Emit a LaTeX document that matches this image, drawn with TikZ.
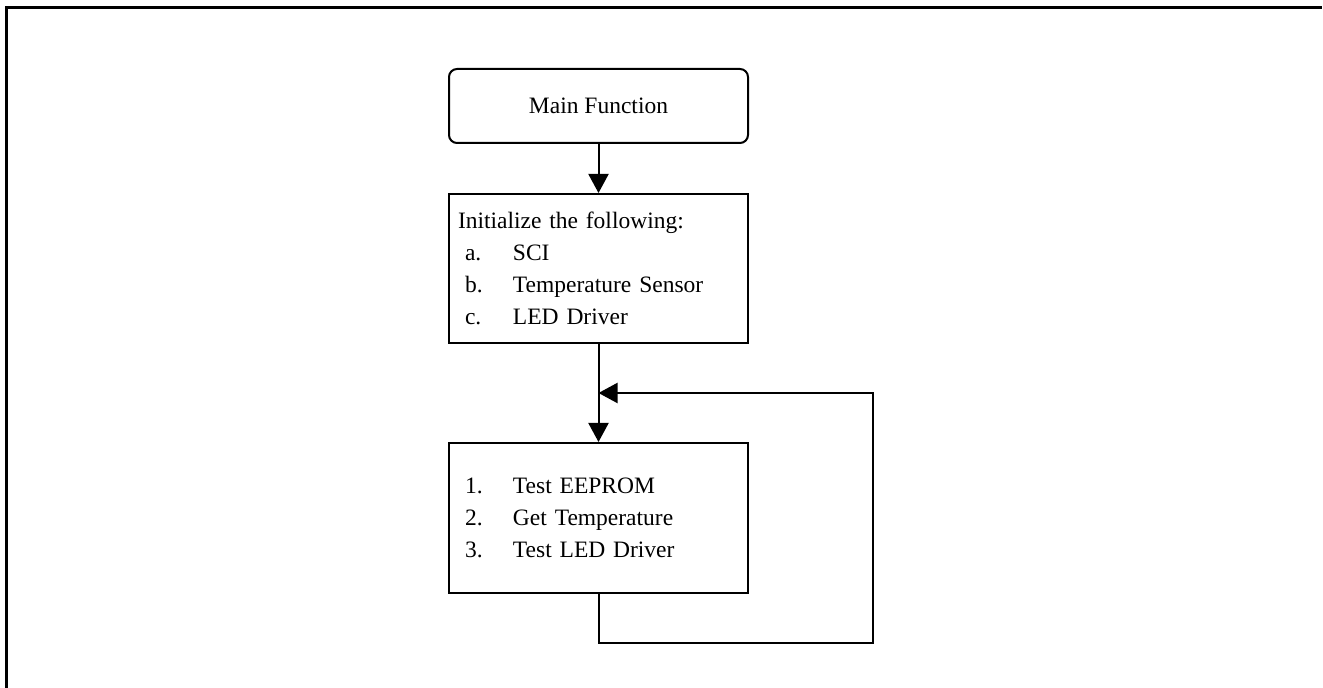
\documentclass[tikz,border=0pt]{standalone}
\usepackage{fontspec}
\setmainfont{Liberation Serif}
\usetikzlibrary{arrows.meta}

\newcommand{\stepitem}[2]{\hspace*{3.5pt}\makebox[24pt][l]{#1}#2}

\begin{document}
\begin{tikzpicture}[x=0.5pt,y=-0.5pt,
  box/.style={draw,line width=1pt,minimum width=149.5pt,inner xsep=4.5pt,inner ysep=0pt,
    font=\fontsize{11.75pt}{15.9pt}\selectfont},
  textbox/.style={box,text width=140.5pt,align=left},
  flow/.style={line width=1pt,-{Triangle[length=9.5pt,width=10pt]}}]
\useasboundingbox (0,0) rectangle (1323,688);
% page frame, top and left only
\draw[line width=1.5pt] (6,688) -- (6,8) -- (1322,8);
% boxes
\node[box,rounded corners=4pt,minimum height=37pt] (main) at (598.5,106) {Main Function};
\node[textbox,minimum height=74.5pt] (init) at (598.5,268.5)
  {Initialize the following:\\ \stepitem{a.}{SCI}\\ \stepitem{b.}{Temperature Sensor}\\ \stepitem{c.}{LED Driver}};
\node[textbox,minimum height=75pt] (loop) at (598.5,518)
  {\stepitem{1.}{Test EEPROM}\\ \stepitem{2.}{Get Temperature}\\ \stepitem{3.}{Test LED Driver}};
% connectors
\coordinate (turn) at (873,643);
\coordinate (join) at (598.5,393);
\draw[flow] (main) -- (init);
\draw[flow] (init) -- (loop);
\draw[flow] (loop.south) |- (turn) |- (join);
\end{tikzpicture}
\end{document}
